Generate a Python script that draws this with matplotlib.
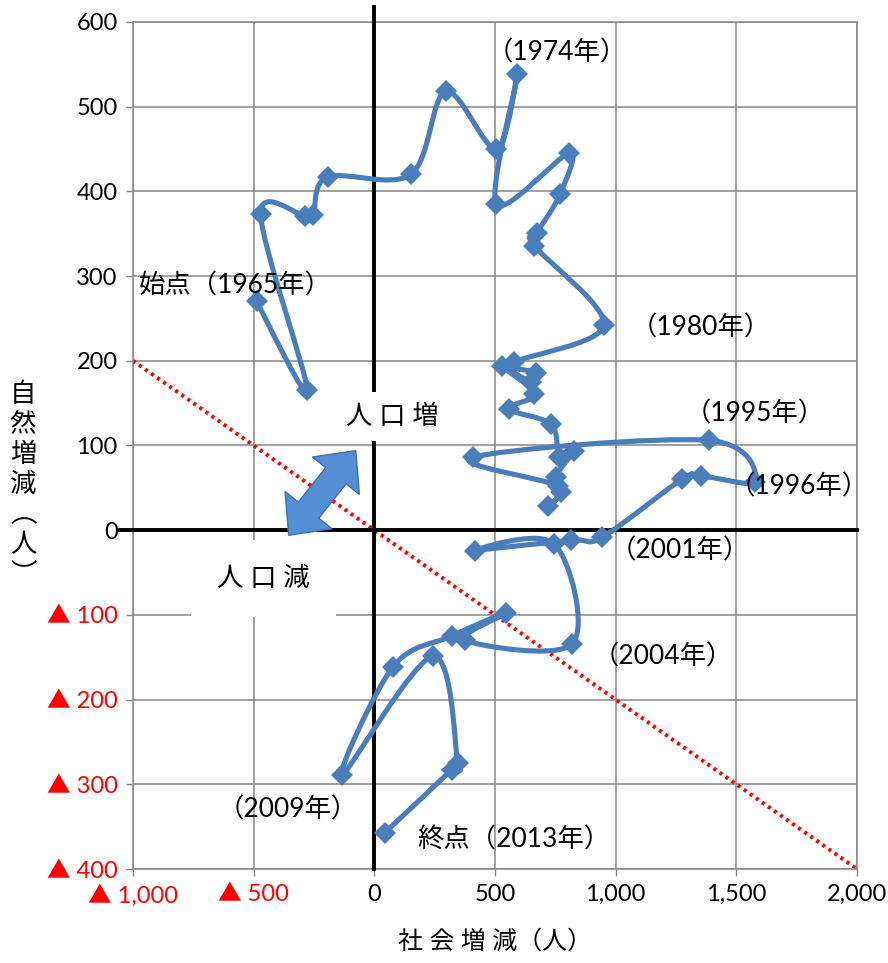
import numpy as np
import matplotlib
matplotlib.use("Agg")
import matplotlib.pyplot as plt
from matplotlib.path import Path
from matplotlib.patches import PathPatch, Polygon
from matplotlib.transforms import IdentityTransform

plt.rcParams['font.family'] = ['Lato', 'Noto Sans CJK JP', 'DejaVu Sans']

# 社会増減(x) と 自然増減(y), 1965年〜2013年
shakai = [-488, -278, -471, -286, -253, -194, 151, 296, 506, 593,
          506, 807, 770, 675, 663, 951, 580, 671, 650, 527,
          663, 560, 733, 766, 828, 751, 772, 719, 760, 408,
          1385, 1579, 1352, 1274, 945, 815, 415, 745, 821, 375,
          546, 320, 78, -134, 243, 345, 320, 44]
shizen = [270, 165, 373, 371, 372, 417, 420, 518, 450, 538,
          385, 445, 397, 351, 336, 242, 198, 186, 175, 194,
          161, 143, 125, 86, 94, 63, 45, 28, 52, 86,
          106, 57, 64, 60, -8, -12, -24, -16, -134, -130,
          -98, -125, -161, -289, -149, -275, -283, -357]

xticks = [-1000, -500, 0, 500, 1000, 1500, 2000]
xticklabels = ['▲ 1,000', '▲ 500', '0', '500', '1,000', '1,500', '2,000']
yticks = [-400, -300, -200, -100, 0, 100, 200, 300, 400, 500, 600]
yticklabels = ['▲ 400', '▲ 300', '▲ 200', '▲ 100', '0', '100', '200', '300', '400', '500', '600']

# 人口増減ゼロの目安線
diag_x = [-1000, 2000]
diag_y = [200, -400]

# 年の注記
notes = [('（1974年）', 758, 564, 'center'),
         ('始点（1965年）', -975, 288, 'left'),
         ('（1980年）', 1063, 239, 'left'),
         ('（1995年）', 1285, 137, 'left'),
         ('（1996年）', 1470, 51, 'left'),
         ('（2001年）', 975, -25, 'left'),
         ('（2004年）', 905, -150, 'left'),
         ('（2009年）', -650, -330, 'left'),
         ('終点（2013年）', 180, -366, 'left')]

blue = '#4A7EBB'
grid_c = '#868686'

fig = plt.figure(figsize=(8.88, 9.63), dpi=100)
ax = fig.add_axes([0.1498, 0.0976, 0.8153, 0.8796])
ax.set_xlim(-1000, 2000)
ax.set_ylim(-400, 600)

ax.set_xticks(xticks)
ax.set_xticklabels(xticklabels)
ax.set_yticks(yticks)
ax.set_yticklabels(yticklabels)
for t in ax.get_xticklabels() + ax.get_yticklabels():
    t.set_fontsize(17)
    if t.get_text().startswith('▲'):
        t.set_color('red')
ax.tick_params(length=5, width=1, color=grid_c, pad=6)
ax.grid(True, color=grid_c, lw=1.1)
ax.set_axisbelow(True)
for s in ax.spines.values():
    s.set_color(grid_c)
    s.set_linewidth(1.1)

ax.plot(diag_x, diag_y, color='red', lw=2.8, ls=(0, (0.8, 1.1)), zorder=2)

ax.axvline(0, ymin=0, ymax=1.018, color='black', lw=2.8, clip_on=False, zorder=3)
ax.axhline(0, xmin=-0.018, xmax=1, color='black', lw=2.8, clip_on=False, zorder=3)

# Excel風のなめらかな線 (ベジェ曲線)
pts = np.column_stack([shakai, shizen]).astype(float)
n = len(pts)
verts = [pts[0]]
codes = [Path.MOVETO]
for i in range(n - 1):
    p0 = pts[max(i - 1, 0)]
    p1 = pts[i]
    p2 = pts[i + 1]
    p3 = pts[min(i + 2, n - 1)]
    verts += [p1 + (p2 - p0) / 6, p2 - (p3 - p1) / 6, p2]
    codes += [Path.CURVE4] * 3
ax.add_patch(PathPatch(Path(verts, codes), fill=False, edgecolor=blue,
                       lw=3.7, capstyle='round', joinstyle='round', zorder=4))
ax.plot(shakai, shizen, ls='none', marker='D', ms=11, color=blue, mew=0, zorder=5)

for txt, x, y, ha in notes:
    ax.text(x, y, txt, fontsize=19, ha=ha, va='center', zorder=6)

ax.text(73, 134, '人 口 増', fontsize=19, ha='center', va='center', zorder=6,
        bbox=dict(boxstyle='square,pad=0.45', fc='white', ec='none'))
ax.text(-459, -57, '人 口 減', fontsize=19, ha='center', va='center', zorder=6,
        bbox=dict(boxstyle='square,pad=1.0', fc='white', ec='none'))

# 両向き矢印
fig.canvas.draw()
cx, cy = ax.transData.transform((-216, 44))
L, hl, hw, sw = 108, 32, 30, 13
shape = np.array([(-L / 2, 0), (-L / 2 + hl, hw), (-L / 2 + hl, sw), (L / 2 - hl, sw),
                  (L / 2 - hl, hw), (L / 2, 0), (L / 2 - hl, -hw), (L / 2 - hl, -sw),
                  (-L / 2 + hl, -sw), (-L / 2 + hl, -hw)])
a = np.deg2rad(51.6)
rot = np.array([[np.cos(a), -np.sin(a)], [np.sin(a), np.cos(a)]])
arrow_xy = shape @ rot.T + [cx, cy]
ax.add_patch(Polygon(arrow_xy, closed=True, transform=IdentityTransform(),
                     fc='#558ED5', ec='#3F6FA8', lw=1, zorder=7))

ax.set_xlabel('社 会 増 減（人）', fontsize=18, labelpad=16)
fig.text(0.026, 0.497, '\n'.join('自然増減︵人︶'), fontsize=19, ha='center', va='center',
         linespacing=1.25)

fig.savefig('out.png', dpi=100)
